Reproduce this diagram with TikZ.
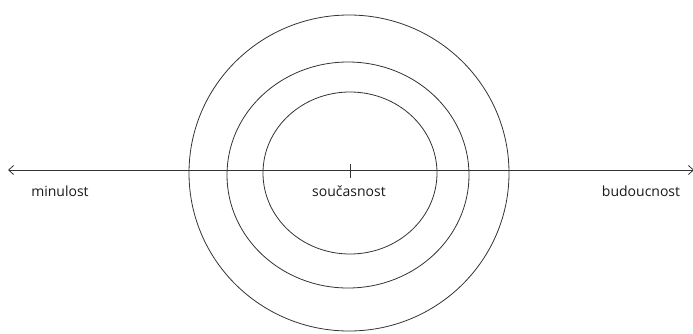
\documentclass[tikz,border=0pt]{standalone}
\usepackage{fontspec}
\setmainfont{Open Sans}
\usepackage{tikz}
\usetikzlibrary{arrows.meta, positioning}

\begin{document}
\begin{tikzpicture}[
    x=1pt, y=-1pt,
    line/.style={draw=black!80, line width=0.8pt},
    axis/.style={line, {Straight Barb[length=5pt,width=9pt]}-{Straight Barb[length=5pt,width=9pt]}},
    label/.style={font=\fontsize{14}{16}\selectfont, text=black!90, inner sep=0pt}
]
\useasboundingbox (0,0) rectangle (693,333);

% time axis
\coordinate (past) at (8,170);
\coordinate (future) at (694,170);
\coordinate (now) at (350,170);
\draw[axis] (past) -- (future);
\draw[line] ([yshift=-8pt]now) -- ([yshift=6pt]now);

% rings around the present
\draw[line] (349,173) ellipse [x radius=160, y radius=158];
\draw[line] (348,175) ellipse [x radius=121, y radius=113];
\draw[line] (350,173) ellipse [x radius=87, y radius=81];

% labels
\node[label] (minulost) at (60,191) {minulost};
\node[label] (soucasnost) at (349,191) {současnost};
\node[label] (budoucnost) at (641,191) {budoucnost};
\end{tikzpicture}
\end{document}
